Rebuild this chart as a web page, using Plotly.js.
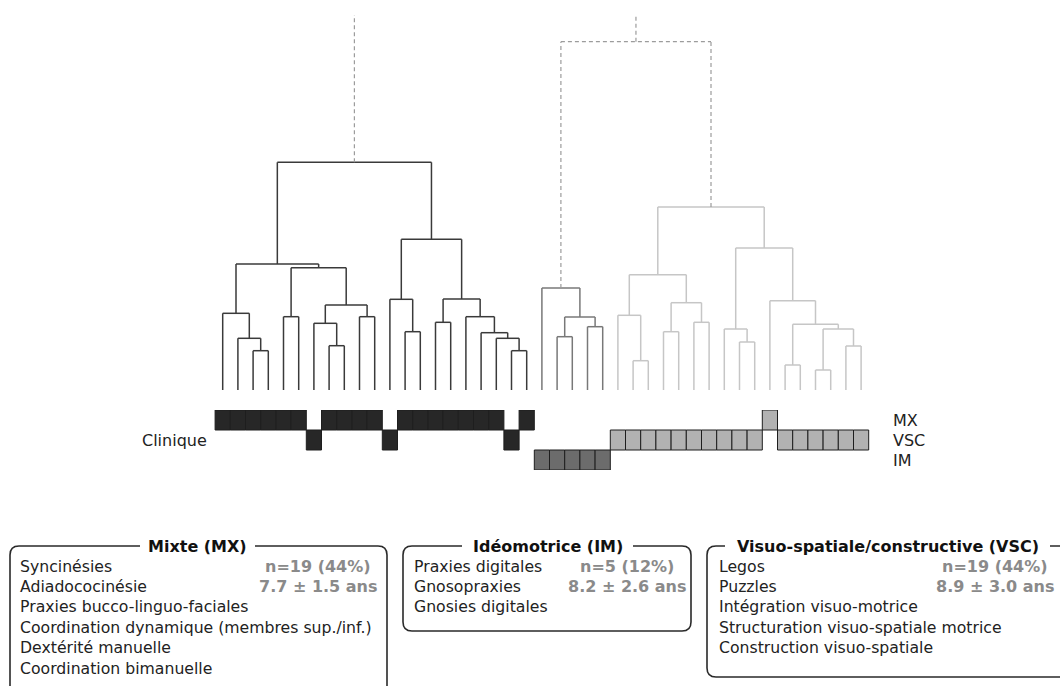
<!DOCTYPE html>
<html><head><meta charset="utf-8">
<script src="https://cdn.plot.ly/plotly-3.0.1.min.js"></script>
<style>html,body{margin:0;padding:0;background:#fff}</style>
</head><body>
<div id="chart" style="width:1060px;height:686px"></div>
<script>
// ---------- DATA ----------
// 43 leaves (children), ordered as in the dendrogram. Merge k creates node 43+k.
const leafCount = 43;
const mergeLeft   = [2, 1, 0, 4, 7, 6, 9, 48, 46, 45, 12, 11, 14, 19, 18, 17, 16, 55, 54, 52,
                     22, 24, 63, 21,
                     27, 26, 29, 31, 69, 68, 34, 33, 37, 39, 41, 76, 75, 36, 74, 72,
                     66, 62];
const mergeRight  = [3, 43, 44, 5, 8, 47, 10, 49, 50, 51, 13, 53, 15, 20, 56, 57, 58, 59, 60, 61,
                     23, 25, 64, 65,
                     28, 67, 30, 32, 70, 71, 35, 73, 38, 40, 42, 77, 78, 79, 80, 81,
                     82, 83];
const mergeHeight = [3.93, 5.17, 7.67, 7.33, 4.43, 6.67, 7.33, 8.5, 12.23, 12.6, 5.83, 9.07, 6.77, 3.93, 5.17, 5.73, 7.33, 9.1, 15.07, 22.77,
                     5.33, 6.33, 7.3, 10.2,
                     2.93, 7.47, 5.83, 6.77, 8.73, 11.53, 4.8, 6.1, 2.5, 2.0, 4.4, 6.1, 6.57, 8.93, 14.2, 18.3,
                     34.83, 40];
// cluster roots (nodes): Mixte, Idéomotrice, Visuo-spatiale
const clusterNames = ['MX', 'IM', 'VSC'];
const clusterRoots = [62, 66, 82];
// clinical classification of each child (leaf order)
const clinicGroup = ['MX','MX','MX','MX','MX','MX','VSC','MX','MX','MX','MX','VSC','MX','MX','MX','MX','MX','MX','MX','VSC','MX',
                     'IM','IM','IM','IM','IM',
                     'VSC','VSC','VSC','VSC','VSC','VSC','VSC','VSC','VSC','VSC','MX','VSC','VSC','VSC','VSC','VSC','VSC'];
const clinicLevels = ['IM', 'VSC', 'MX'];   // bottom to top
const clinicLabel = 'Clinique';

const boxTitles = ['Mixte (MX)', 'Idéomotrice (IM)', 'Visuo-spatiale/constructive (VSC)'];
const boxItems = [
  ['Syncinésies', 'Adiadococinésie', 'Praxies bucco-linguo-faciales', 'Coordination dynamique (membres sup./inf.)', 'Dextérité manuelle', 'Coordination bimanuelle'],
  ['Praxies digitales', 'Gnosopraxies', 'Gnosies digitales'],
  ['Legos', 'Puzzles', 'Intégration visuo-motrice', 'Structuration visuo-spatiale motrice', 'Construction visuo-spatiale']
];
const boxN   = ['n=19 (44%)', 'n=5 (12%)', 'n=19 (44%)'];
const boxAge = ['7.7 ± 1.5 ans', '8.2 ± 2.6 ans', '8.9 ± 3.0 ans'];

// ---------- STYLE / LAYOUT ----------
const W = 1060, H = 686;
const FONT = 'DejaVu Sans';
const clusterLineColor = {MX: '#3a3a3a', IM: '#787878', VSC: '#c6c6c6'};
const clusterFill = {MX: '#272727', IM: '#6c6c6c', VSC: '#b2b2b2'};
const dashedColor = '#9c9c9c';
const leafPx0 = 222.7, leafStep = 15.2;     // pixel position of first leaf, spacing
const basePx = 390, pxPerUnit = 10, topPx = 15;
const rowTopPx = 410, rowBotPx = 470;

// ---------- BUILD DENDROGRAM ----------
const nodeX = [], nodeH = [];
for (let i = 0; i < leafCount; i++) { nodeX[i] = i; nodeH[i] = 0; }
mergeLeft.forEach((a, k) => {
  const b = mergeRight[k];
  nodeX[leafCount + k] = (nodeX[a] + nodeX[b]) / 2;
  nodeH[leafCount + k] = mergeHeight[k];
});
const segs = {dashed: {x: [], y: []}};
clusterNames.forEach(c => segs[c] = {x: [], y: []});
const leafCluster = [];
function addSeg(s, x0, y0, x1, y1) { s.x.push(x0, x1, null); s.y.push(y0, y1, null); }
function walk(node, style) {
  const ci = clusterRoots.indexOf(node);
  if (ci >= 0) style = clusterNames[ci];
  if (node < leafCount) { leafCluster[node] = style; return; }
  const k = node - leafCount, a = mergeLeft[k], b = mergeRight[k], h = nodeH[node];
  const s = segs[style];
  addSeg(s, nodeX[a], h, nodeX[b], h);
  addSeg(s, nodeX[a], nodeH[a], nodeX[a], h);
  addSeg(s, nodeX[b], nodeH[b], nodeX[b], h);
  walk(a, style); walk(b, style);
}
walk(leafCount + mergeLeft.length - 1, 'dashed');

const traces = [];
clusterNames.forEach(c => traces.push({
  type: 'scatter', mode: 'lines', x: segs[c].x, y: segs[c].y, xaxis: 'x', yaxis: 'y',
  line: {color: clusterLineColor[c], width: 1.5}, hoverinfo: 'skip', showlegend: false
}));
traces.push({
  type: 'scatter', mode: 'lines', x: segs.dashed.x, y: segs.dashed.y, xaxis: 'x', yaxis: 'y',
  line: {color: dashedColor, width: 1.2, dash: '4px,3px'}, hoverinfo: 'skip', showlegend: false
});

// Clinique squares
clusterNames.forEach(c => {
  const xs = [], bases = [], ys = [];
  for (let i = 0; i < leafCount; i++) if (leafCluster[i] === c) {
    const r = clinicLevels.indexOf(clinicGroup[i]);
    xs.push(i); bases.push(r - 0.5); ys.push(1);
  }
  traces.push({
    type: 'bar', x: xs, y: ys, base: bases, width: 1, xaxis: 'x', yaxis: 'y2',
    marker: {color: clusterFill[c], line: {color: '#1e1e1e', width: 1}},
    hoverinfo: 'skip', showlegend: false
  });
});

// ---------- ANNOTATIONS & SHAPES ----------
const px = v => v / W, py = v => 1 - v / H;
const annotations = [];
clinicLevels.forEach((lv, r) => annotations.push({
  text: lv, xref: 'paper', yref: 'y2', x: px(891), y: r, xanchor: 'left', yanchor: 'middle',
  showarrow: false, font: {family: FONT, size: 16, color: '#222'}
}));
annotations.push({
  text: clinicLabel, xref: 'paper', yref: 'y2', x: px(209), y: clinicLevels.indexOf('VSC'),
  xanchor: 'right', yanchor: 'middle', showarrow: false, font: {family: FONT, size: 16, color: '#222'}
});

const boxGeom = [
  {l: 10,  r: 387,  t: 546, b: 720, gapL: 140, gapR: 255,  textX: 18,  statX: 318},
  {l: 403, r: 691,  t: 546, b: 631, gapL: 462, gapR: 633,  textX: 412, statX: 627},
  {l: 707, r: 1080, t: 546, b: 677, gapL: 725, gapR: 1050, textX: 717, statX: 995}
];
const rowY0 = 566, rowStep = 20.4, rad = 9;
const shapes = [];
boxGeom.forEach((g, i) => {
  const P = (x, y) => px(x) + ',' + py(y);
  const d = 'M' + P(g.gapL, g.t) + ' L' + P(g.l + rad, g.t) + ' Q' + P(g.l, g.t) + ' ' + P(g.l, g.t + rad) +
            ' L' + P(g.l, g.b - rad) + ' Q' + P(g.l, g.b) + ' ' + P(g.l + rad, g.b) +
            ' L' + P(g.r - rad, g.b) + ' Q' + P(g.r, g.b) + ' ' + P(g.r, g.b - rad) +
            ' L' + P(g.r, g.t + rad) + ' Q' + P(g.r, g.t) + ' ' + P(g.r - rad, g.t) +
            ' L' + P(g.gapR, g.t);
  shapes.push({type: 'path', xref: 'paper', yref: 'paper', path: d, line: {color: '#2a2a2a', width: 1.6}});
  annotations.push({
    text: '<b>' + boxTitles[i] + '</b>', xref: 'paper', yref: 'paper', x: px((g.gapL + g.gapR) / 2), y: py(g.t),
    xanchor: 'center', yanchor: 'middle', showarrow: false, font: {family: FONT, size: 16, color: '#111'}
  });
  boxItems[i].forEach((t, j) => annotations.push({
    text: t, xref: 'paper', yref: 'paper', x: px(g.textX), y: py(rowY0 + j * rowStep),
    xanchor: 'left', yanchor: 'middle', showarrow: false, font: {family: FONT, size: 15.7, color: '#222'}
  }));
  [boxN[i], boxAge[i]].forEach((t, j) => annotations.push({
    text: '<b>' + t + '</b>', xref: 'paper', yref: 'paper', x: px(g.statX), y: py(rowY0 + j * rowStep),
    xanchor: 'center', yanchor: 'middle', showarrow: false, font: {family: FONT, size: 16, color: '#8a8a8a'}
  }));
});

const layout = {
  width: W, height: H, margin: {l: 0, r: 0, t: 0, b: 0},
  paper_bgcolor: '#fff', plot_bgcolor: 'rgba(0,0,0,0)', showlegend: false, barmode: 'overlay',
  xaxis: {range: [-leafPx0 / leafStep, (W - leafPx0) / leafStep], visible: false, fixedrange: true, anchor: 'y'},
  yaxis: {domain: [0, 1 - topPx / H], range: [(basePx - H) / pxPerUnit, (basePx - topPx) / pxPerUnit],
          visible: false, fixedrange: true, anchor: 'x'},
  yaxis2: {domain: [(H - rowBotPx) / H, (H - rowTopPx) / H], range: [-0.5, 2.5], visible: false,
           fixedrange: true, anchor: 'x'},
  annotations: annotations, shapes: shapes
};
Plotly.newPlot('chart', traces, layout, {staticPlot: true, displayModeBar: false});
</script>
</body></html>
